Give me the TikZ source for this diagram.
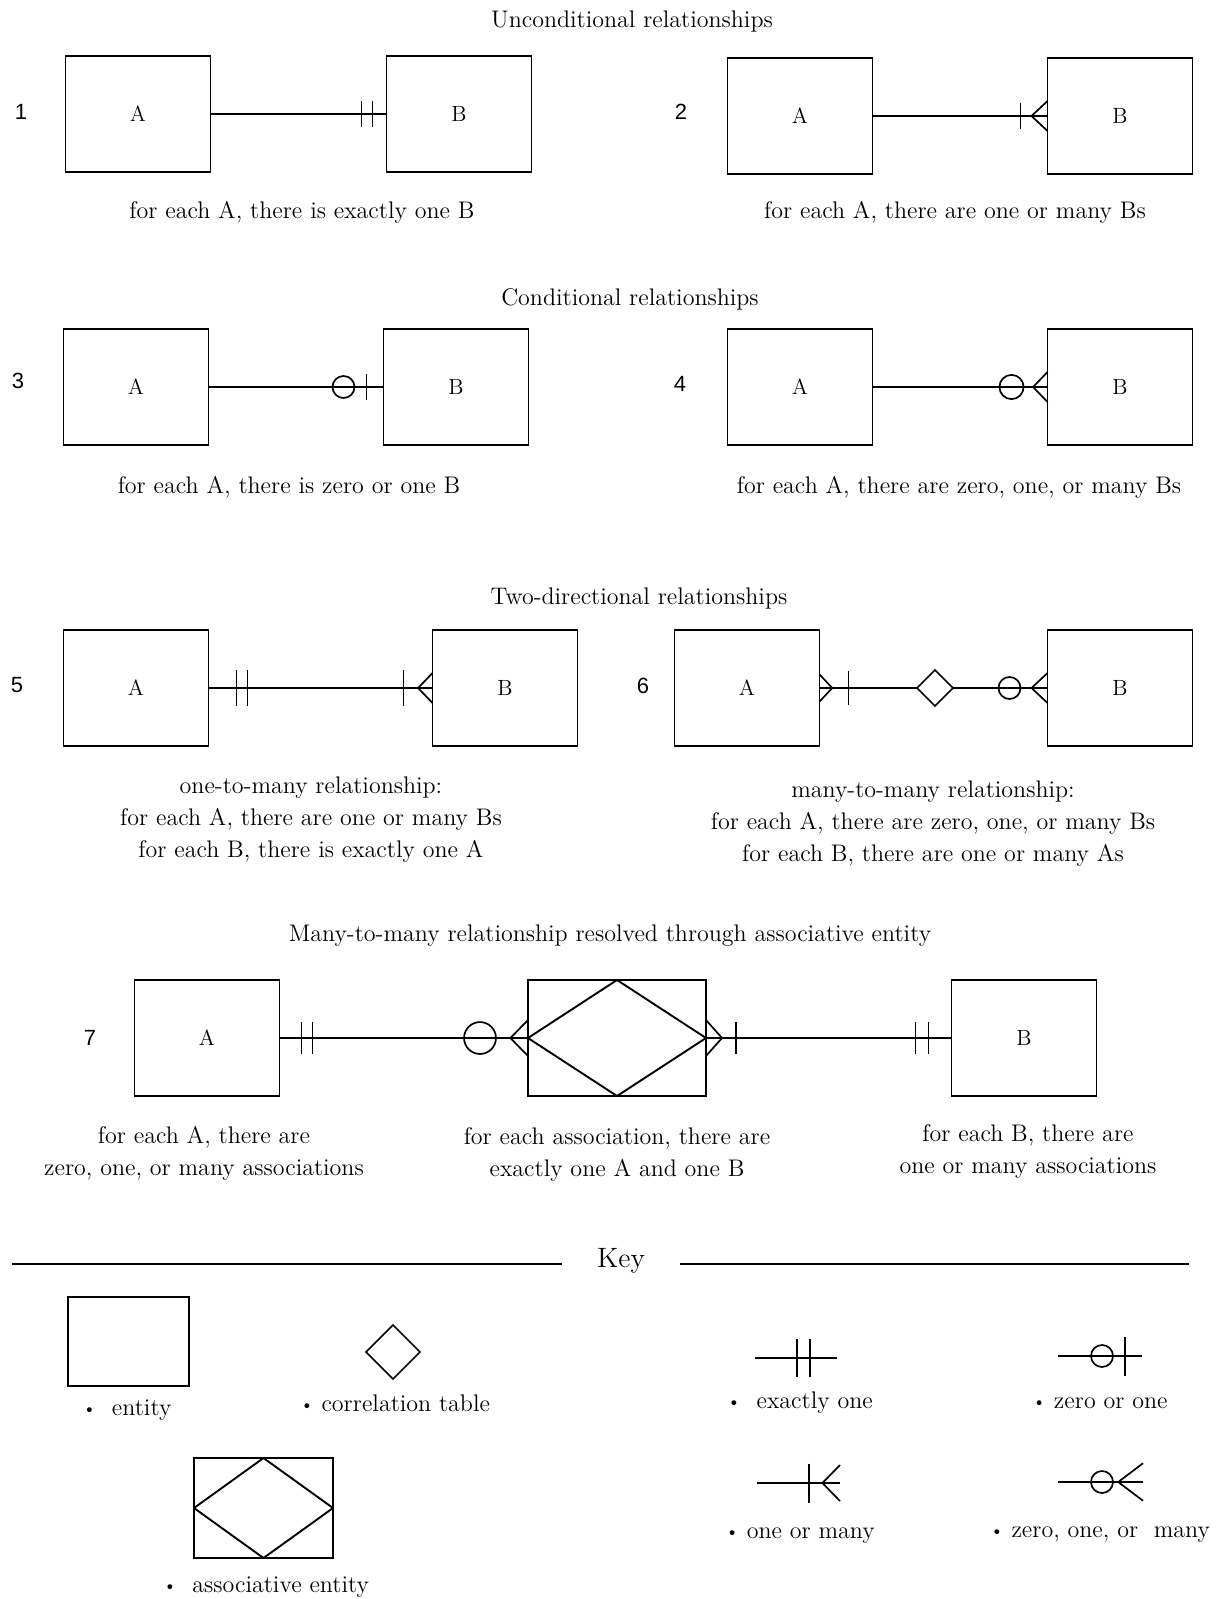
\documentclass[tikz,border=0pt]{standalone}
\usepackage{fontspec}
\newfontfamily\numfont{Liberation Sans}
\usetikzlibrary{calc,shapes.geometric}
\newcommand{\keydot}{\raisebox{0.1ex}{\scalebox{0.75}{\textbullet}}}

\begin{document}
\begin{tikzpicture}[
    x=0.5pt, y=-0.5pt,
    line width=0.85pt,
    entity/.style={draw, rectangle, line width=0.95pt, minimum width=72.5pt,
                   minimum height=58pt, inner sep=0pt, outer sep=0pt,
                   font=\fontsize{11}{13}\selectfont},
    assoc/.style={entity, minimum width=89pt,
                  path picture={\draw (path picture bounding box.north)
                    -- (path picture bounding box.east)
                    -- (path picture bounding box.south)
                    -- (path picture bounding box.west) -- cycle;}},
    corr/.style={draw, diamond, aspect=1, minimum size=18pt,
                 inner sep=0pt, outer sep=0pt},
    caption/.style={align=center, font=\fontsize{12}{16}\selectfont},
    heading/.style={font=\fontsize{12}{14}\selectfont},
    num/.style={font=\numfont\fontsize{11}{13}\selectfont},
    bar/.pic={\draw (0,-13) -- (0,13);},
    ring/.pic={\draw (0,0) circle[radius=11];},
    crow/.pic={\draw (0,-15) -- (-16,0) -- (0,15);}
]
\useasboundingbox (0,0) rectangle (1217,1599);

% unconditional
\node[heading] (t1) at (632,22) {Unconditional relationships};
\node[num] (n1) at (21,112) {1};
\node[entity] (a1) at (138,114) {A};
\node[entity] (b1) at (459,114) {B};
\draw (a1) -- (b1);
\pic at ($(b1.west)+(-25,0)$) {bar};
\pic at ($(b1.west)+(-14,0)$) {bar};
\node[caption] (c1) at (302,212) {for each A, there is exactly one B};

\node[num] (n2) at (681,112) {2};
\node[entity] (a2) at (800,116) {A};
\node[entity] (b2) at (1120,116) {B};
\draw (a2) -- (b2);
\pic at (b2.west) {crow};
\pic at ($(b2.west)+(-27,0)$) {bar};
\node[caption] (c2) at (955,212) {for each A, there are one or many Bs};

% conditional
\node[heading] (t2) at (630,299) {Conditional relationships};
\node[num] (n3) at (18,381) {3};
\node[entity] (a3) at (136,387) {A};
\node[entity] (b3) at (456,387) {B};
\draw (a3) -- (b3);
\pic at ($(b3.west)+(-40,0)$) {ring};
\pic at ($(b3.west)+(-17,0)$) {bar};
\node[caption] (c3) at (289,487) {for each A, there is zero or one B};

\node[num] (n4) at (680,384) {4};
\node[entity] (a4) at (800,387) {A};
\node[entity] (b4) at (1120,387) {B};
\draw (a4) -- (b4);
\pic[xscale=0.9] at (b4.west) {crow};
\pic[scale=1.1] at ($(b4.west)+(-36,0)$) {ring};
\node[caption] (c4) at (959,487) {for each A, there are zero, one, or many Bs};

% two-directional
\node[heading] (t3) at (639,598) {Two-directional relationships};
\node[num] (n5) at (17,685) {5};
\node[entity] (a5) at (136,688) {A};
\node[entity] (b5) at (505,688) {B};
\draw (a5) -- (b5);
\pic[yscale=1.35] at ($(a5.east)+(28,0)$) {bar};
\pic[yscale=1.35] at ($(a5.east)+(39,0)$) {bar};
\pic[xscale=0.9] at (b5.west) {crow};
\pic[yscale=1.35] at ($(b5.west)+(-29,0)$) {bar};
\node[caption] (c5) at (311,820) {one-to-many relationship:\\
    for each A, there are one or many Bs\\
    for each B, there is exactly one A};

\node[num] (n6) at (643,686) {6};
\node[entity] (a6) at (747,688) {A};
\node[corr] (d6) at (935,688) {};
\node[entity] (b6) at (1120,688) {B};
\draw (a6) -- (d6) -- (b6);
\pic[xscale=-0.8, yscale=0.9] at (a6.east) {crow};
\pic[yscale=1.3] at ($(a6.east)+(29,0)$) {bar};
\pic at (b6.west) {crow};
\pic at ($(b6.west)+(-38,0)$) {ring};
\node[caption] (c6) at (933,824) {many-to-many relationship:\\
    for each A, there are zero, one, or many Bs\\
    for each B, there are one or many As};

% associative entity
\node[heading] (t4) at (610,936) {Many-to-many relationship resolved through associative entity};
\node[num] (n7) at (90,1038) {7};
\node[entity] (a7) at (207,1038) {A};
\node[assoc] (s7) at (617,1038) {};
\node[entity] (b7) at (1024,1038) {B};
\draw (a7) -- (s7) -- (b7);
\pic[yscale=1.25] at ($(a7.east)+(22,0)$) {bar};
\pic[yscale=1.25] at ($(a7.east)+(33,0)$) {bar};
\pic[scale=1.45] at ($(s7.west)+(-48,0)$) {ring};
\pic[xscale=1.1, yscale=1.2] at (s7.west) {crow};
\pic[xscale=-1, yscale=1.2] at (s7.east) {crow};
\pic[yscale=1.25] at ($(s7.east)+(30,0)$) {bar};
\pic[yscale=1.25] at ($(b7.west)+(-36,0)$) {bar};
\pic[yscale=1.25] at ($(b7.west)+(-23,0)$) {bar};
\node[caption] (c7a) at (204,1153) {for each A, there are\\zero, one, or many associations};
\node[caption] (c7b) at (617,1154) {for each association, there are\\exactly one A and one B};
\node[caption] (c7c) at (1028,1151) {for each B, there are\\one or many associations};

% key
\node[font=\fontsize{14}{16}\selectfont, inner xsep=17pt] (key) at (621,1261) {Key};
\coordinate (kl) at (12,1264);
\coordinate (kr) at (1189,1264);
\draw[line width=0.6pt] (kl) -- (kl -| key.west);
\draw[line width=0.6pt] (kr -| key.east) -- (kr);

\node[entity, minimum width=60.5pt, minimum height=44.5pt] (ke) at (128.5,1341.5) {};
\node[caption] (kel) at (127,1410) {\keydot\ \ entity};
\node[corr, minimum size=27pt] (kd) at (393,1352) {};
\node[caption] (kdl) at (395,1403) {\keydot\ correlation table};
\node[assoc, minimum width=69.5pt, minimum height=50pt] (ks) at (263.5,1508) {};
\node[caption] (ksl) at (266,1587) {\keydot\ \ associative entity};

\coordinate (k1l) at (755,1358);
\coordinate (k1r) at (837,1358);
\draw (k1l) -- (k1r);
\pic[yscale=1.45] at (797,1358) {bar};
\pic[yscale=1.45] at (810,1358) {bar};
\node[caption] (k1) at (800,1403) {\keydot\ \ exactly one};

\coordinate (k2l) at (1058,1356);
\coordinate (k2r) at (1142,1356);
\draw (k2l) -- (k2r);
\pic at (1102,1356) {ring};
\pic[yscale=1.5] at (1125,1356) {bar};
\node[caption] (k2) at (1100,1403) {\keydot\ zero or one};

\coordinate (k3l) at (757,1483);
\coordinate (k3r) at (840,1483);
\draw (k3l) -- (k3r);
\pic[yscale=1.5] at (809,1483) {bar};
\pic[xscale=1.1, yscale=1.2] at (k3r) {crow};
\node[caption] (k3) at (800,1536) {\keydot\ one or many};

\coordinate (k4l) at (1058,1482);
\coordinate (k4r) at (1143,1482);
\draw (k4l) -- (k4r);
\pic at (1102,1482) {ring};
\pic[xscale=1.55, yscale=1.25] at (k4r) {crow};
\node[caption] (k4) at (1100,1535) {\keydot\ zero, one, or\ \ many};
\end{tikzpicture}
\end{document}
